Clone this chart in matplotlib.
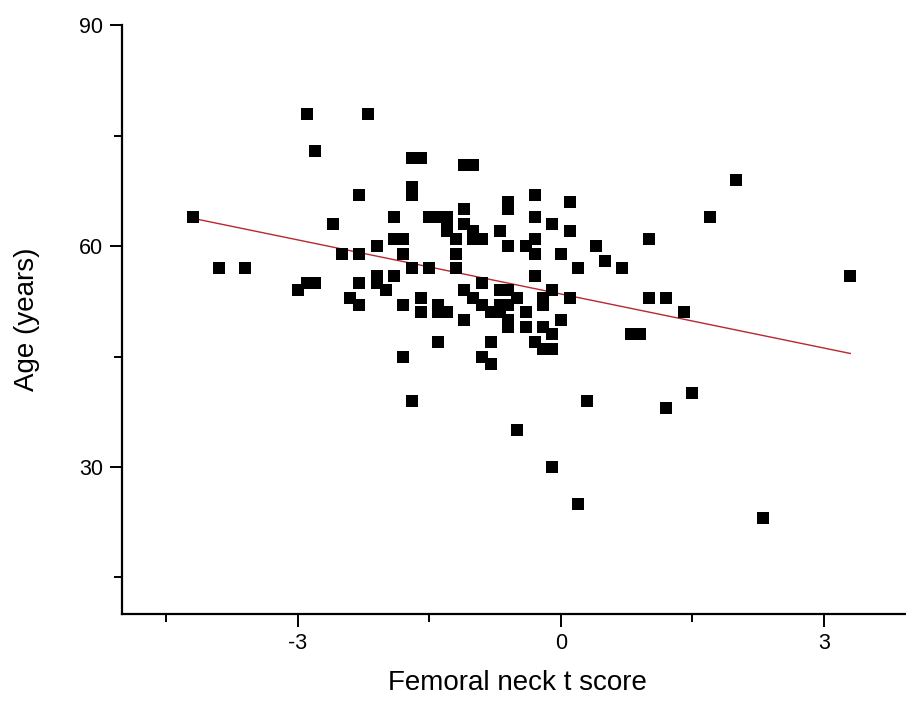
import matplotlib.pyplot as plt
import numpy as np
from matplotlib.ticker import MultipleLocator

plt.rcParams["font.family"] = ["Liberation Sans", "DejaVu Sans"]
plt.rcParams["axes.unicode_minus"] = False

# femoral neck t score vs age
t_score = [
    -4.2, -3.9, -3.6, -3.0, -2.9, -2.8, -2.9, -2.8, -2.6, -2.5,
    -2.3, -2.3, -2.3, -2.4, -2.3, -2.2, -2.1, -2.1, -2.1, -2.0,
    -1.9, -1.9, -1.8, -1.8, -1.9, -1.8, -1.8, -1.7, -1.6, -1.7,
    -1.7, -1.7, -1.7, -1.6, -1.6, -1.5, -1.4, -1.3, -1.3, -1.3,
    -1.5, -1.4, -1.4, -1.3, -1.4, -1.2, -1.2, -1.2, -1.1, -1.0,
    -1.1, -1.1, -1.0, -0.9, -1.0, -1.1, -1.0, -0.9, -0.9, -1.1,
    -0.9, -0.8, -0.8, -0.7, -0.6, -0.6, -0.6, -0.7, -0.6, -0.5,
    -0.7, -0.6, -0.8, -0.7, -0.6, -0.6, -0.5, -0.4, -0.3, -0.3,
    -0.3, -0.3, -0.3, -0.4, -0.4, -0.3, -0.2, -0.2, -0.2, -0.2,
    -0.1, -0.1, -0.1, -0.1, -0.1, 0.0, 0.0, 0.1, 0.1, 0.1,
    0.2, 0.2, 0.3, 0.4, 0.5, 0.7, 0.8, 0.9, 1.0, 1.0,
    1.2, 1.2, 1.4, 1.5, 1.7, 2.0, 2.3, 3.3,
]
age = [
    64, 57, 57, 54, 78, 73, 55, 55, 63, 59,
    67, 59, 55, 53, 52, 78, 60, 56, 55, 54,
    64, 61, 61, 59, 56, 52, 45, 72, 72, 68,
    67, 57, 39, 53, 51, 64, 64, 64, 63, 62,
    57, 52, 51, 51, 47, 61, 59, 57, 71, 71,
    65, 63, 62, 61, 61, 54, 53, 55, 52, 50,
    45, 47, 44, 62, 66, 65, 60, 54, 54, 53,
    52, 52, 51, 51, 50, 49, 35, 60, 61, 59,
    67, 64, 56, 51, 49, 47, 53, 52, 49, 46,
    63, 54, 48, 46, 30, 59, 50, 66, 62, 53,
    57, 25, 39, 60, 58, 57, 48, 48, 61, 53,
    53, 38, 51, 40, 64, 69, 23, 56,
]

# fitted line shown in the reference
fit_intercept = 53.5
fit_slope = -2.45

fig = plt.figure(figsize=(9.06, 7.02), dpi=100)
ax = fig.add_axes([0.1352, 0.1254, 0.871, 0.8383])

ax.scatter(t_score, age, marker="s", s=70, color="black", linewidths=0, zorder=3)

x_fit = np.array([min(t_score), max(t_score)])
ax.plot(x_fit, fit_intercept + fit_slope * x_fit, color="#b8282e", lw=1.0, zorder=2)

ax.set_xlim(-5, 4)
ax.set_ylim(10, 90)
ax.xaxis.set_major_locator(MultipleLocator(3))
ax.xaxis.set_minor_locator(MultipleLocator(1.5))
ax.yaxis.set_major_locator(MultipleLocator(30))
ax.yaxis.set_minor_locator(MultipleLocator(15))

for side in ["top", "right"]:
    ax.spines[side].set_visible(False)
for side in ["left", "bottom"]:
    ax.spines[side].set_linewidth(1.6)

ax.tick_params(which="major", direction="out", length=9, width=1.4,
               labelsize=15.5, pad=5)
ax.tick_params(which="minor", direction="out", length=6, width=1.4)

ax.set_xlabel("Femoral neck t score", fontsize=20)
ax.set_ylabel("Age (years)", fontsize=20)
ax.xaxis.set_label_coords(0.5, -0.095)
ax.yaxis.set_label_coords(-0.105, 0.5)

fig.savefig("out.png", dpi=100)
